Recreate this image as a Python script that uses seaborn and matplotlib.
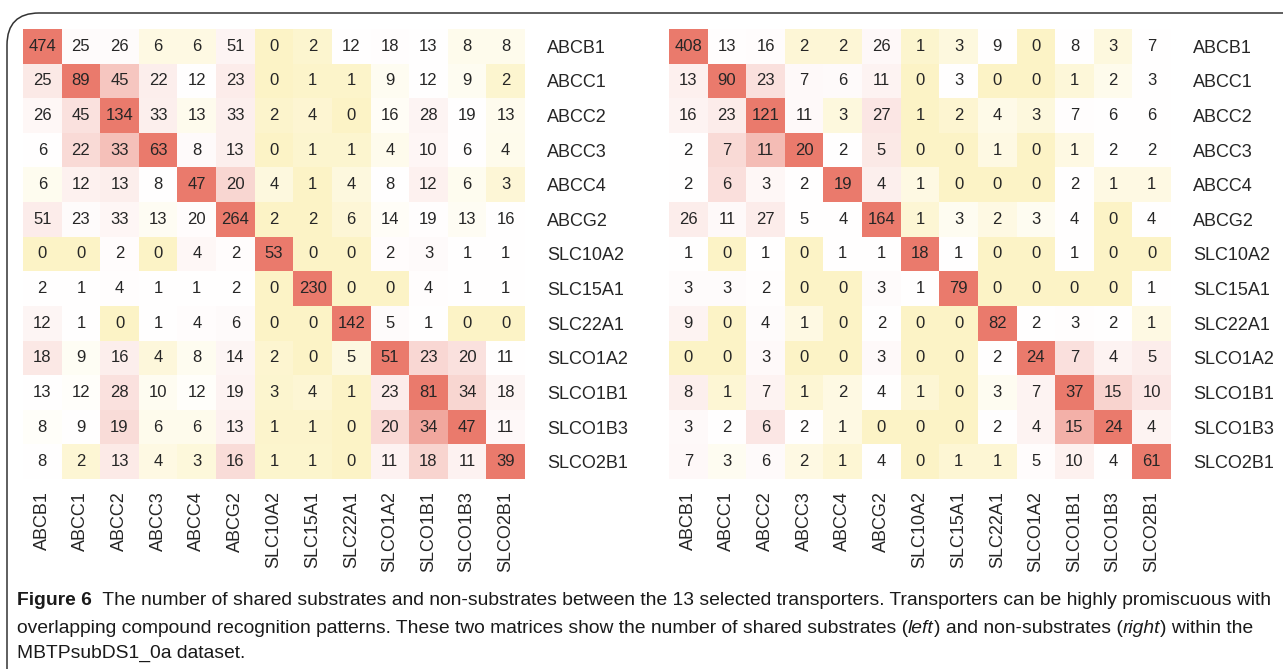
import numpy as np
import pandas as pd
import seaborn as sns
import matplotlib.pyplot as plt
from matplotlib.colors import LinearSegmentedColormap
from matplotlib.patches import FancyBboxPatch

transporters = ["ABCB1", "ABCC1", "ABCC2", "ABCC3", "ABCC4", "ABCG2", "SLC10A2",
                "SLC15A1", "SLC22A1", "SLCO1A2", "SLCO1B1", "SLCO1B3", "SLCO2B1"]

# shared substrates (left)
substrates = [
    [474, 25, 26, 6, 6, 51, 0, 2, 12, 18, 13, 8, 8],
    [25, 89, 45, 22, 12, 23, 0, 1, 1, 9, 12, 9, 2],
    [26, 45, 134, 33, 13, 33, 2, 4, 0, 16, 28, 19, 13],
    [6, 22, 33, 63, 8, 13, 0, 1, 1, 4, 10, 6, 4],
    [6, 12, 13, 8, 47, 20, 4, 1, 4, 8, 12, 6, 3],
    [51, 23, 33, 13, 20, 264, 2, 2, 6, 14, 19, 13, 16],
    [0, 0, 2, 0, 4, 2, 53, 0, 0, 2, 3, 1, 1],
    [2, 1, 4, 1, 1, 2, 0, 230, 0, 0, 4, 1, 1],
    [12, 1, 0, 1, 4, 6, 0, 0, 142, 5, 1, 0, 0],
    [18, 9, 16, 4, 8, 14, 2, 0, 5, 51, 23, 20, 11],
    [13, 12, 28, 10, 12, 19, 3, 4, 1, 23, 81, 34, 18],
    [8, 9, 19, 6, 6, 13, 1, 1, 0, 20, 34, 47, 11],
    [8, 2, 13, 4, 3, 16, 1, 1, 0, 11, 18, 11, 39],
]

# non-substrates (right)
non_substrates = [
    [408, 13, 16, 2, 2, 26, 1, 3, 9, 0, 8, 3, 7],
    [13, 90, 23, 7, 6, 11, 0, 3, 0, 0, 1, 2, 3],
    [16, 23, 121, 11, 3, 27, 1, 2, 4, 3, 7, 6, 6],
    [2, 7, 11, 20, 2, 5, 0, 0, 1, 0, 1, 2, 2],
    [2, 6, 3, 2, 19, 4, 1, 0, 0, 0, 2, 1, 1],
    [26, 11, 27, 5, 4, 164, 1, 3, 2, 3, 4, 0, 4],
    [1, 0, 1, 0, 1, 1, 18, 1, 0, 0, 1, 0, 0],
    [3, 3, 2, 0, 0, 3, 1, 79, 0, 0, 0, 0, 1],
    [9, 0, 4, 1, 0, 2, 0, 0, 82, 2, 3, 2, 1],
    [0, 0, 3, 0, 0, 3, 0, 0, 2, 24, 7, 4, 5],
    [8, 1, 7, 1, 2, 4, 1, 0, 3, 7, 37, 15, 10],
    [3, 2, 6, 2, 1, 0, 0, 0, 2, 4, 15, 24, 4],
    [7, 3, 6, 2, 1, 4, 0, 1, 1, 5, 10, 4, 61],
]

W, H = 1283, 669
FONT = ["Liberation Sans", "DejaVu Sans"]
plt.rcParams["font.family"] = FONT

cmap = LinearSegmentedColormap.from_list("ywr", ["#fcf3c6", "#ffffff", "#ea7a6c"])


def row_scale(mat):
    # 3-colour scale per row: min -> -1, median -> 0, max -> 1
    m = np.asarray(mat, dtype=float)
    out = np.zeros_like(m)
    for i, r in enumerate(m):
        lo, mid, hi = r.min(), np.median(r), r.max()
        below = (r - mid) / (mid - lo) if mid > lo else np.zeros_like(r)
        above = (r - mid) / (hi - mid) if hi > mid else np.zeros_like(r)
        out[i] = np.where(r < mid, below, above)
    return out


fig = plt.figure(figsize=(W / 100, H / 100), dpi=100)

panels = [(substrates, 23), (non_substrates, 669)]
for mat, x0 in panels:
    ax = fig.add_axes([x0 / W, 1 - 479 / H, 502 / W, 450 / H])
    df = pd.DataFrame(mat, index=transporters, columns=transporters)
    sns.heatmap(row_scale(mat), annot=df.values, fmt="d", cmap=cmap,
                vmin=-1, vmax=1, cbar=False, ax=ax,
                xticklabels=transporters, yticklabels=transporters,
                annot_kws={"fontsize": 12, "color": "#262626"})
    ax.yaxis.tick_right()
    ax.tick_params(axis="y", length=0, pad=16, labelsize=13,
                   labelcolor="#262626", labelrotation=0)
    ax.tick_params(axis="x", length=0, pad=9, labelsize=13,
                   labelcolor="#262626", labelrotation=90)
    for t in ax.get_yticklabels():
        t.set_ha("left")

# rounded frame (top + left edge visible)
box = FancyBboxPatch((7 / W, -0.1), 1.2, 1 - 13 / H + 0.1,
                     boxstyle="round,pad=0,rounding_size=0.025",
                     transform=fig.transFigure, fill=False,
                     edgecolor="#333333", linewidth=1.1, clip_on=False,
                     mutation_aspect=W / H)
fig.add_artist(box)

# caption, drawn in runs so bold / italic parts sit inline
cap_font = ["Liberation Sans", "DejaVu Sans"]
cap_size = 13.9
renderer = fig.canvas.get_renderer()


def draw_runs(runs, x_px, y_px):
    x = x_px
    for txt, weight, style in runs:
        t = fig.text(x / W, 1 - y_px / H, txt, fontsize=cap_size, family=cap_font,
                     weight=weight, style=style, color="#1a1a1a",
                     va="baseline", ha="left")
        bb = t.get_window_extent(renderer=renderer)
        x += bb.width


draw_runs([("Figure 6", "bold", "normal"),
           ("  The number of shared substrates and non-substrates between the 13 selected transporters. "
            "Transporters can be highly promiscuous with", "normal", "normal")], 17, 605)
draw_runs([("overlapping compound recognition patterns. These two matrices show the number of shared substrates (",
            "normal", "normal"),
           ("left", "normal", "italic"),
           (") and non-substrates (", "normal", "normal"),
           ("right", "normal", "italic"),
           (") within the", "normal", "normal")], 17, 633)
draw_runs([("MBTPsubDS1_0a dataset.", "normal", "normal")], 17, 658)

fig.savefig("out.png", dpi=100)
